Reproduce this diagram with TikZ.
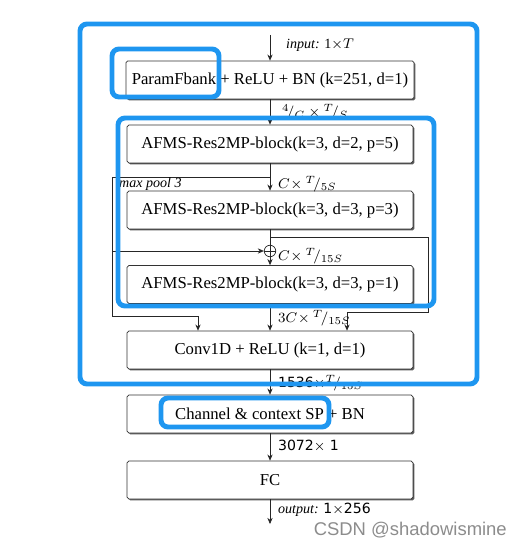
\documentclass[tikz,border=0pt]{standalone}
\usepackage{fontspec}
\setmainfont{Liberation Serif}
\setsansfont{DejaVu Sans}
\newfontfamily\wmfont{Liberation Sans}
\usepackage{tikz}
\usetikzlibrary{arrows.meta,shadows,calc}
\definecolor{markblue}{RGB}{30,150,240}

\begin{document}
\begin{tikzpicture}[x=0.02cm, y=-0.02cm,
  every node/.style={font=\small},
  block/.style={draw=black!80, fill=white, rounded corners=1pt,
                minimum width=5.72cm, minimum height=0.76cm,
                align=center, font=\fontsize{9.5}{11.5}\selectfont,
                drop shadow={shadow xshift=0.8pt, shadow yshift=-0.8pt,
                             fill=black!80, opacity=0.8}},
  arrow/.style={-{Stealth[length=3.5pt,width=3pt]}, black!85, thin},
  wire/.style={black!85, thin},
  dimlbl/.style={anchor=west, inner sep=1pt, font=\footnotesize},
  hilite/.style={draw=markblue, line width=2.8pt, rounded corners=4pt},
]
\useasboundingbox (0,0) rectangle (528,547);

%% ── Blocks ─────────────────────────────────────────────────────────────────
\node[block] (b1) at (270, 80)  {ParamFbank + ReLU + BN (k=251, d=1)};
\node[block] (b2) at (270,144)  {AFMS-Res2MP-block(k=3, d=2, p=5)};
\node[block] (b3) at (270,210)  {AFMS-Res2MP-block(k=3, d=3, p=3)};
\node[block] (b4) at (270,284.5){AFMS-Res2MP-block(k=3, d=3, p=1)};
\node[block] (b5) at (270,350)  {Conv1D + ReLU (k=1, d=1)};
\node[block] (b6) at (270,414)  {Channel \& context SP + BN};
\node[block] (b7) at (270,480)  {FC};

%% ── Sum node ───────────────────────────────────────────────────────────────
\node[circle, draw=black!85, thin, inner sep=0pt, minimum size=0.23cm] (add) at (270,251) {};
\draw[wire] (add.north) -- (add.south) (add.west) -- (add.east);

%% ── Branch points ──────────────────────────────────────────────────────────
\coordinate (inpt)    at (270, 35);
\coordinate (outpt)   at (270,524);
\coordinate (split1)  at (270,177);
\coordinate (lcorner) at (112,177);
\coordinate (ltap)    at (112,251);
\coordinate (lbot)    at (112,316);
\coordinate (poolin)  at (198,316);
\coordinate (split2)  at (270,237);
\coordinate (rcorner) at (428,237);
\coordinate (rbot)    at (428,312);
\coordinate (skipin)  at (347,312);

%% ── Main path ──────────────────────────────────────────────────────────────
\draw[arrow] (inpt) -- (b1);
\draw[arrow] (b1) -- (b2);
\draw[arrow] (b2) -- (b3);
\draw[wire]  (b3) -- (add);
\draw[arrow] (add) -- (b4);
\draw[arrow] (b4) -- (b5);
\draw[arrow] (b5) -- (b6);
\draw[arrow] (b6) -- (b7);
\draw[arrow] (b7) -- (outpt);

%% ── Side branches ──────────────────────────────────────────────────────────
\draw[wire]  (split1) -- (lcorner) -- (lbot) -- (poolin);
\draw[arrow] (poolin) -- (poolin |- b5.north);
\draw[arrow] (ltap) -- (add);
\draw[wire]  (split2) -- (rcorner) -- (rbot) -- (skipin);
\draw[arrow] (skipin) -- (skipin |- b5.north);

%% ── Labels ─────────────────────────────────────────────────────────────────
\node[dimlbl] (lin)   at (284, 45)  {\textit{input:} 1$\times T$};
\node[dimlbl] (l1)    at (280,112)  {${}^{4}\!/_{C}\times{}^{T}\!/_{S}$};
\node[dimlbl] (lpool) at (117,184)  {\textit{max pool 3}};
\node[dimlbl] (l2)    at (276,184)  {$C\!\times{}^{T}\!/_{5S}$};
\node[dimlbl] (l3)    at (276,256)  {$C\!\times{}^{T}\!/_{15S}$};
\node[dimlbl] (l4)    at (276,318)  {$3C\!\times{}^{T}\!/_{15S}$};
\node[dimlbl] (l5)    at (276,383)  {\textsf{1536}$\times{}^{T}\!/_{15S}$};
\node[dimlbl] (l6)    at (276,446)  {\sffamily 3072$\times$ 1};
\node[dimlbl] (l7)    at (276,510)  {\textit{output:} \textsf{1$\times$256}};

%% ── Highlights ─────────────────────────────────────────────────────────────
\draw[hilite] (80,24)   rectangle (477,384);
\draw[hilite] (112,49)  rectangle (219,97);
\draw[hilite] (118,118) rectangle (434,306);
\draw[hilite] (161,398) rectangle (329,427);

%% ── Watermark ──────────────────────────────────────────────────────────────
\node[anchor=east, text=black!45, font=\wmfont\fontsize{10.5}{12}\selectfont] (wm) at (513,530) {CSDN @shadowismine};

\end{tikzpicture}
\end{document}
